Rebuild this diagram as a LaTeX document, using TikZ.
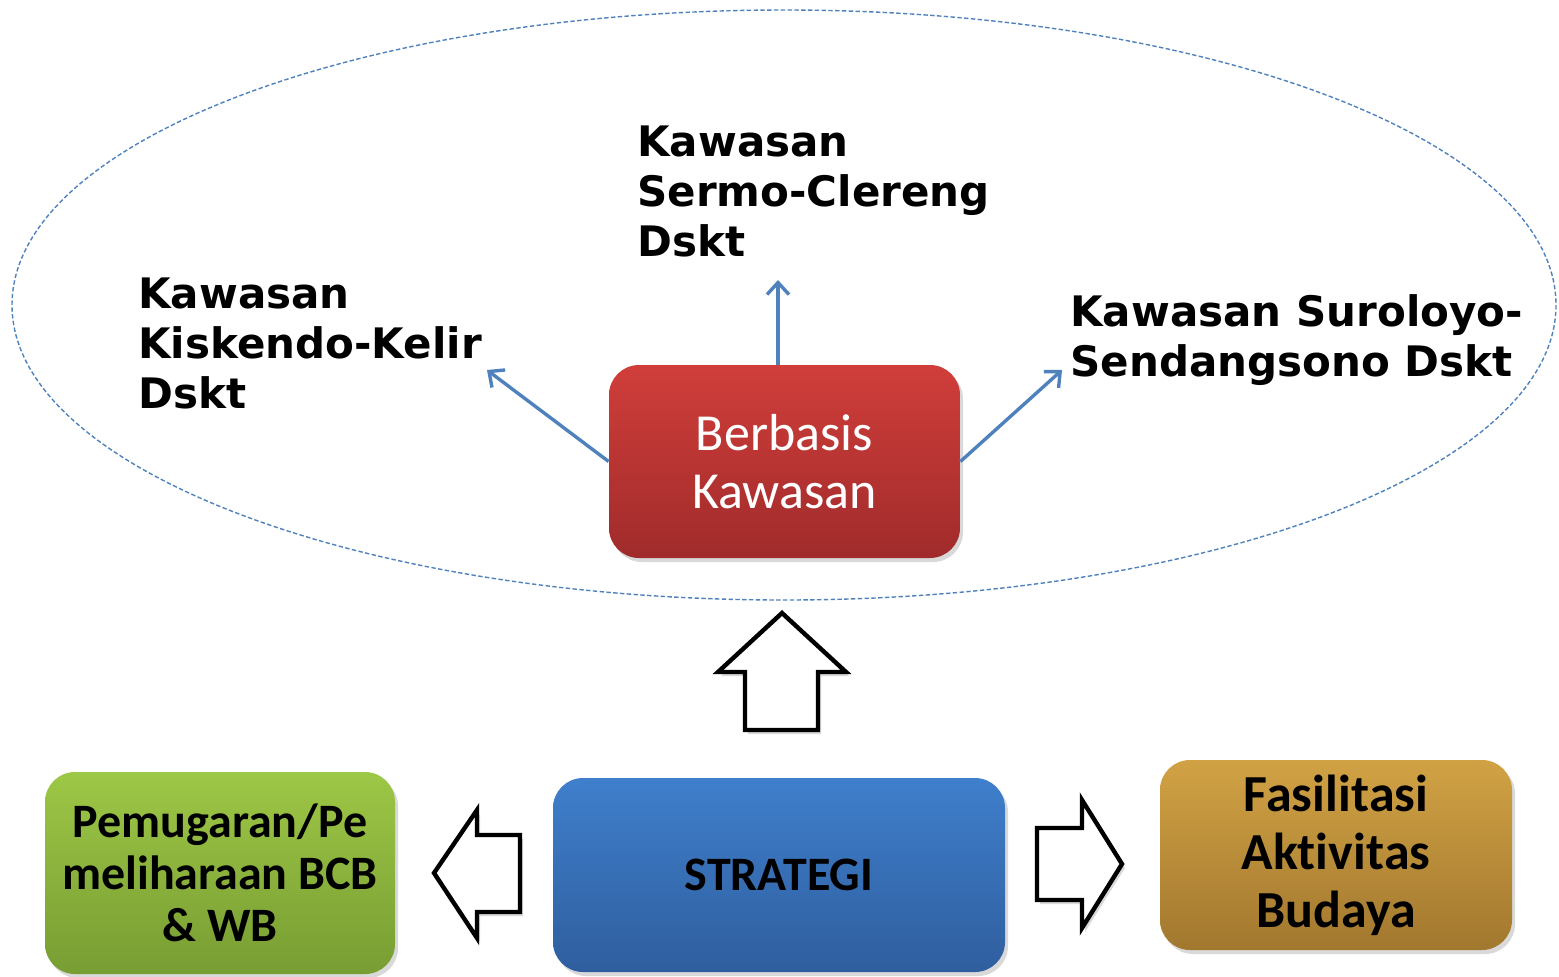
\documentclass[tikz,border=0pt]{standalone}
\usepackage{fontspec}
\setmainfont{Carlito}[RawFeature={-liga;-clig;-calt;-dlig}]
\newfontfamily\dvfont{DejaVu Sans}
\usetikzlibrary{arrows.meta,shadows}
\definecolor{lineblue}{HTML}{4F81BD}
\definecolor{redtop}{HTML}{D03E3A}
\definecolor{redbot}{HTML}{A02B2B}
\definecolor{bluetop}{HTML}{3F7FCC}
\definecolor{bluebot}{HTML}{2F5E9E}
\definecolor{greentop}{HTML}{9DC746}
\definecolor{greenbot}{HTML}{789D33}
\definecolor{goldtop}{HTML}{D1A244}
\definecolor{goldbot}{HTML}{A2782F}
\begin{document}
\begin{tikzpicture}[x=0.5pt,y=-0.5pt,
  box/.style={rounded corners=15pt, inner sep=0pt, align=center,
    drop shadow={shadow xshift=1.5pt, shadow yshift=-2pt, opacity=0.3}},
  lbl/.style={font=\dvfont\bfseries\fontsize{21}{25}\selectfont, align=left, inner sep=0pt, anchor=west},
  blink/.style={draw=lineblue, line width=1.7pt, -{Straight Barb[length=6pt,width=11pt,line width=1.7pt]}},
  barrow/.style={draw=black, line width=2.2pt, fill=white, line join=miter,
    drop shadow={shadow xshift=1.5pt, shadow yshift=-2pt, opacity=0.3}}]
\useasboundingbox (0,0) rectangle (1559,976);

% dashed ellipse
\draw[lineblue, line width=0.7pt, dash pattern=on 2.2pt off 1.2pt] (784,305) ellipse [x radius=772, y radius=295];

% red box
\node[box, top color=redtop, bottom color=redbot, minimum width=175.5pt, minimum height=96.5pt,
  font=\fontsize{26}{29}\selectfont, text=white] (rb) at (784.5,461.5) {Berbasis\\Kawasan};

% labels
\node[lbl] (lt) at (637,191) {Kawasan\\Sermo-Clereng\\Dskt};
\node[lbl] (ll) at (138,343) {Kawasan\\Kiskendo-Kelir\\Dskt};
\node[lbl] (lr) at (1070,340) {Kawasan Suroloyo-\\Sendangsono Dskt};

\coordinate (ct) at (778,280);
\coordinate (cts) at (778,365);
\coordinate (cl) at (487,370);
\coordinate (cr) at (1062,370);
\draw[blink] (cts) -- (ct);
\draw[blink] (rb.west) -- (cl);
\draw[blink] (rb.east) -- (cr);

% bottom boxes
\node[box, top color=bluetop, bottom color=bluebot, minimum width=226pt, minimum height=97pt,
  font=\bfseries\fontsize{24}{28}\selectfont, text=black] (st) at (779,875) {STRATEGI};
\node[box, top color=greentop, bottom color=greenbot, minimum width=175pt, minimum height=101pt,
  font=\bfseries\fontsize{24}{26}\selectfont, text=black] (gb) at (220,873) {Pemugaran/Pe\\meliharaan BCB\\\& WB};
\node[box, top color=goldtop, bottom color=goldbot, minimum width=176pt, minimum height=95pt,
  font=\bfseries\fontsize{26}{29}\selectfont, text=black] (fb) at (1336,855) {Fasilit\kern0pt asi\\Akt\kern0pt ivit\kern0pt as\\Budaya};

% block arrows
\draw[barrow] (745,730) -- (745,672) -- (718,672) -- (782,613) -- (846,672) -- (818,672) -- (818,730) -- cycle;
\draw[barrow] (520,835) -- (477,835) -- (477,810) -- (434,873) -- (477,938) -- (477,912) -- (520,912) -- cycle;
\draw[barrow] (1037,828) -- (1082,828) -- (1082,800) -- (1122,864) -- (1082,928) -- (1082,900) -- (1037,900) -- cycle;
\end{tikzpicture}
\end{document}
